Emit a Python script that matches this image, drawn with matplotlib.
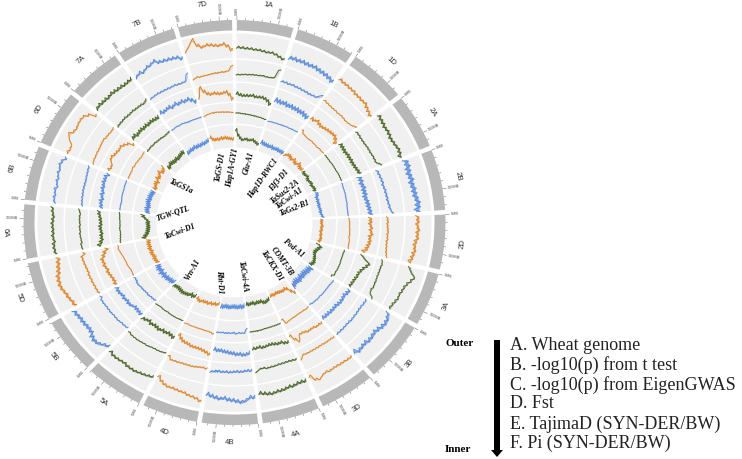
# -*- coding: utf-8 -*-
"""Circular genome plot: five sliding-window tracks over the 21 wheat chromosomes."""
import numpy as np
import matplotlib

matplotlib.use("Agg")
import matplotlib.pyplot as plt

plt.rcParams["font.family"] = ["Liberation Sans", "DejaVu Sans"]

chroms = ["1A", "1B", "1D", "2A", "2B", "2D", "3A", "3B", "3D", "4A", "4B", "4D",
          "5A", "5B", "5D", "6A", "6B", "6D", "7A", "7B", "7D"]
# chromosome length in MB
chrom_mb = [684, 711, 693, 684, 763, 689, 671, 759, 667, 693, 675, 671,
            706, 702, 737, 680, 680, 697, 658, 719, 653]

# each track: 12 windows per chromosome, in percent of the track height
track_b = [
    [45, 44, 42, 42, 40, 40, 38, 36, 38, 34, 28, 22], [36, 38, 36, 38, 36, 36, 38, 34, 32, 30, 26, 20],
    [46, 42, 42, 40, 40, 36, 36, 34, 36, 28, 22, 16], [44, 40, 38, 34, 36, 34, 30, 32, 34, 38, 36, 30],
    [44, 46, 42, 40, 44, 40, 44, 44, 46, 52, 50, 46], [46, 48, 44, 50, 46, 48, 42, 40, 44, 40, 38, 32],
    [38, 50, 68, 60, 50, 44, 42, 38, 40, 36, 32, 30], [34, 44, 48, 46, 40, 36, 40, 42, 38, 40, 44, 34],
    [42, 42, 40, 40, 38, 38, 40, 36, 40, 50, 44, 22], [32, 30, 30, 34, 32, 36, 38, 38, 42, 40, 36, 32],
    [46, 44, 56, 62, 58, 54, 52, 46, 50, 46, 42, 36], [70, 62, 58, 56, 50, 50, 48, 46, 48, 44, 36, 22],
    [36, 40, 44, 46, 50, 50, 50, 46, 48, 50, 50, 44], [36, 44, 56, 60, 56, 46, 44, 46, 48, 48, 52, 54],
    [40, 42, 48, 50, 56, 60, 58, 56, 48, 44, 40, 36], [42, 44, 44, 40, 44, 42, 42, 44, 42, 40, 44, 46],
    [40, 44, 42, 46, 40, 46, 44, 50, 48, 54, 50, 40], [44, 40, 42, 60, 72, 60, 58, 62, 64, 62, 50, 26],
    [40, 44, 42, 42, 40, 44, 42, 40, 40, 38, 40, 42], [36, 44, 40, 50, 52, 60, 48, 46, 44, 42, 40, 30],
    [52, 70, 92, 66, 56, 62, 60, 56, 54, 60, 50, 34],
]
spread_b = [4, 8, 5, 6, 11, 6, 3, 8, 3, 6, 7, 4, 5, 8, 7, 5, 4, 3, 6, 6, 5]

track_c = [
    [32, 32, 34, 34, 36, 36, 36, 38, 36, 36, 40, 80], [34, 34, 32, 34, 32, 32, 30, 30, 28, 30, 32, 50],
    [40, 36, 34, 32, 32, 30, 32, 30, 28, 30, 34, 44], [32, 32, 30, 30, 30, 32, 32, 32, 34, 34, 34, 50],
    [24, 26, 28, 30, 28, 32, 32, 34, 34, 38, 40, 50], [26, 28, 26, 28, 30, 28, 30, 28, 30, 32, 34, 40],
    [26, 30, 28, 28, 28, 28, 30, 30, 32, 28, 32, 50], [32, 32, 30, 30, 32, 32, 34, 32, 32, 34, 34, 34],
    [36, 34, 34, 34, 32, 32, 32, 32, 32, 32, 30, 46], [36, 34, 32, 32, 32, 32, 34, 34, 36, 32, 34, 46],
    [36, 34, 36, 38, 36, 38, 40, 38, 40, 38, 40, 44], [34, 32, 34, 36, 38, 38, 38, 38, 40, 40, 42, 28],
    [24, 28, 30, 30, 32, 36, 36, 38, 40, 40, 40, 36], [28, 30, 30, 34, 34, 34, 36, 36, 36, 38, 38, 32],
    [32, 34, 34, 36, 36, 38, 36, 38, 40, 42, 44, 30], [34, 36, 32, 34, 36, 34, 36, 34, 36, 36, 34, 40],
    [30, 32, 34, 34, 36, 36, 36, 36, 38, 40, 42, 44], [32, 36, 36, 38, 38, 40, 42, 44, 40, 40, 38, 40],
    [30, 32, 32, 34, 32, 32, 34, 32, 32, 32, 30, 38], [30, 32, 34, 34, 34, 34, 34, 36, 34, 34, 36, 66],
    [34, 40, 38, 40, 40, 42, 44, 44, 46, 46, 50, 72],
]
spread_c = [2, 4, 2, 3, 5, 3, 2, 3, 2, 3, 5, 3, 2, 3, 4, 2, 3, 2, 3, 3, 2]

track_d = [
    [46, 38, 34, 36, 36, 40, 34, 36, 38, 34, 26, 10], [44, 40, 38, 42, 36, 40, 36, 38, 34, 36, 30, 26],
    [38, 34, 44, 36, 32, 36, 40, 42, 44, 46, 36, 20], [40, 38, 36, 34, 38, 36, 38, 36, 38, 40, 44, 46],
    [38, 40, 36, 42, 38, 40, 36, 42, 44, 46, 50, 52], [50, 52, 48, 56, 52, 60, 50, 54, 52, 48, 44, 30],
    [30, 50, 78, 70, 58, 50, 44, 44, 40, 38, 36, 34], [44, 42, 36, 40, 42, 40, 36, 38, 38, 36, 36, 34],
    [50, 48, 50, 44, 44, 46, 40, 36, 38, 70, 50, 22], [48, 46, 36, 38, 34, 30, 30, 34, 36, 30, 34, 34],
    [54, 60, 62, 56, 58, 52, 50, 46, 44, 40, 42, 36], [70, 62, 56, 52, 50, 50, 50, 44, 42, 40, 30, 14],
    [44, 38, 34, 40, 36, 44, 40, 38, 44, 36, 44, 48], [40, 38, 36, 34, 44, 48, 44, 50, 46, 52, 54, 50],
    [48, 44, 46, 50, 56, 52, 60, 58, 62, 50, 40, 24], [60, 48, 40, 42, 38, 42, 44, 40, 42, 44, 50, 52],
    [44, 46, 50, 44, 52, 48, 56, 54, 60, 58, 60, 50], [60, 52, 56, 72, 76, 68, 66, 62, 66, 56, 44, 18],
    [42, 46, 38, 42, 44, 40, 44, 40, 44, 42, 40, 40], [54, 48, 52, 56, 48, 58, 50, 56, 50, 56, 44, 30],
    [44, 96, 72, 56, 50, 54, 50, 46, 50, 54, 38, 14],
]
spread_d = [7, 12, 8, 9, 12, 8, 6, 9, 4, 7, 9, 7, 9, 9, 8, 8, 9, 5, 9, 9, 7]

track_e = [
    [52, 52, 50, 50, 48, 48, 46, 46, 44, 44, 42, 40], [36, 38, 38, 40, 40, 42, 42, 44, 44, 46, 46, 48],
    [70, 56, 54, 52, 52, 54, 52, 52, 50, 54, 52, 54], [54, 54, 54, 54, 56, 56, 56, 56, 58, 58, 58, 58],
    [56, 54, 54, 54, 54, 52, 52, 52, 50, 50, 50, 50], [54, 56, 56, 56, 58, 58, 60, 58, 62, 62, 62, 64],
    [50, 48, 48, 48, 48, 50, 50, 50, 50, 48, 50, 40], [60, 58, 56, 56, 56, 56, 56, 54, 56, 54, 54, 50],
    [54, 56, 54, 54, 54, 54, 56, 56, 58, 60, 64, 40], [54, 54, 54, 54, 54, 54, 54, 56, 56, 56, 56, 56],
    [40, 58, 58, 56, 60, 54, 58, 56, 58, 56, 58, 58], [70, 64, 62, 62, 60, 60, 60, 60, 60, 60, 58, 60],
    [54, 54, 56, 56, 56, 56, 54, 56, 56, 54, 56, 58], [48, 50, 50, 54, 52, 54, 56, 56, 60, 60, 56, 56],
    [56, 54, 54, 58, 60, 60, 62, 64, 68, 72, 76, 74], [60, 58, 56, 54, 54, 56, 54, 54, 54, 56, 56, 58],
    [58, 58, 58, 56, 58, 60, 60, 60, 60, 62, 62, 62], [60, 60, 60, 60, 64, 60, 62, 60, 60, 58, 60, 62],
    [54, 54, 56, 54, 56, 54, 54, 54, 52, 52, 54, 56], [54, 56, 58, 56, 58, 56, 54, 54, 54, 54, 54, 54],
    [54, 58, 60, 62, 62, 62, 60, 60, 58, 58, 56, 54],
]
spread_e = [1, 1, 1, 1, 1, 1, 1, 1, 1, 1, 2, 1, 1, 3, 1, 1, 1, 1, 2, 1, 1]

track_f = [
    [80, 56, 44, 36, 40, 42, 38, 40, 44, 38, 34, 28], [44, 40, 38, 38, 36, 40, 36, 38, 40, 38, 40, 38],
    [36, 44, 46, 42, 38, 46, 38, 36, 48, 40, 36, 38], [38, 34, 36, 40, 34, 32, 36, 38, 34, 38, 40, 36],
    [42, 40, 34, 36, 34, 36, 34, 36, 38, 36, 40, 44], [40, 38, 38, 42, 38, 40, 36, 40, 38, 42, 40, 36],
    [36, 50, 44, 38, 34, 34, 38, 42, 44, 48, 46, 40], [50, 44, 44, 40, 38, 40, 36, 42, 38, 36, 40, 46],
    [70, 56, 36, 30, 34, 32, 30, 28, 26, 30, 26, 28], [36, 40, 44, 42, 34, 36, 34, 38, 32, 34, 36, 32],
    [40, 44, 40, 44, 42, 40, 42, 44, 42, 40, 44, 42], [34, 40, 36, 42, 38, 44, 40, 42, 40, 46, 44, 36],
    [34, 40, 34, 42, 44, 46, 48, 46, 44, 42, 44, 46], [36, 42, 40, 46, 44, 50, 44, 52, 44, 50, 46, 44],
    [40, 42, 44, 40, 44, 46, 42, 48, 44, 46, 44, 42], [60, 52, 44, 40, 38, 36, 36, 38, 36, 44, 56, 60],
    [42, 44, 46, 42, 44, 46, 48, 44, 46, 44, 42, 40], [40, 38, 44, 46, 40, 52, 46, 50, 60, 48, 50, 60],
    [40, 38, 46, 44, 42, 40, 44, 40, 44, 46, 50, 48], [34, 36, 40, 38, 44, 40, 42, 40, 44, 42, 46, 50],
    [60, 48, 44, 46, 42, 48, 44, 48, 44, 42, 40, 38],
]
spread_f = [5, 8, 7, 6, 6, 5, 7, 13, 6, 7, 9, 6, 8, 11, 8, 8, 10, 8, 8, 8, 6]

gene_names = ["TaGS-D1", "Hap1A-GY1", "Glu-A1", "Hap1D-RWC1", "Elf3-D1", "TaSus2-2A", "TaCwi-A1",
              "TaGs2-B1", "Pod-A1", "COMT-3B", "TaCKX-D1", "TaCwi-4A", "Rht-D1", "Vrn-A1",
              "TaCwi-D1", "TGW-QTL", "TaGS1a"]
gene_x = [220, 233, 249, 263, 279, 285, 289, 295, 294, 282, 272, 243, 220, 193, 180, 173, 181]
gene_y = [167, 168, 163, 179, 181, 192, 198, 208, 248, 261, 266, 277, 282, 270, 232, 213, 187]
gene_rot = [80, 80, 75, 55, 50, 38, 35, 22, -40, -55, -58, -82, -87, 60, 20, 18, -25]

legend_text = ["A. Wheat genome", "B. -log10(p) from t test", "C. -log10(p) from EigenGWAS",
               "D. Fst", "E. TajimaD (SYN-DER/BW)", "F. Pi (SYN-DER/BW)"]
legend_y = [345, 365, 385, 404, 424, 443]

genome_color = {"A": "#4f6b2c", "B": "#5b8ede", "D": "#e0882d"}
tracks = [(track_b, spread_b, 171, 197), (track_c, spread_c, 147, 169.5),
          (track_d, spread_d, 126, 145.5), (track_e, spread_e, 103, 124.5),
          (track_f, spread_f, 78, 101.5)]

W, H = 742, 459
GAP = 1.3  # degrees between chromosomes
deg_per_mb = (360 - GAP * len(chroms)) / sum(chrom_mb)

fig = plt.figure(figsize=(W / 100, H / 100), dpi=100)
# the original circle is squashed a little, so the polar axes gets a non-square box
half_w, half_h = 230, 220.8
ax = fig.add_axes([(234.5 - half_w) / W, 1 - (222.5 + half_h) / H, 2 * half_w / W, 2 * half_h / H],
                  projection="polar")
ax.set_theta_zero_location("N")
ax.set_theta_direction(-1)
ax.set_ylim(0, half_w)
ax.set_aspect("auto")
ax.axis("off")

start = GAP / 2
for i, name in enumerate(chroms):
    size = chrom_mb[i]
    span = size * deg_per_mb
    mid = np.radians(start + span / 2)
    wid = np.radians(span)
    color = genome_color[name[1]]

    # outer band
    ax.bar(mid, 11, width=wid, bottom=200, color="#b8b8b8", linewidth=0)

    # ticks every 100 MB, labels every 500 MB
    for mb in range(0, size + 1, 100):
        th = np.radians(start + mb * deg_per_mb)
        top = 215 if mb % 500 == 0 else 213
        ax.plot([th, th], [211, top], color="#666666", lw=0.35, solid_capstyle="butt")
        if mb % 500 == 0:
            deg = start + mb * deg_per_mb
            right = deg < 180
            ax.text(th, 216.5, f"{mb}MB", fontsize=2.8, color="#555555", va="center",
                    ha="left" if right else "right", rotation_mode="anchor",
                    rotation=(90 - deg) if right else (270 - deg))

    # chromosome name follows the circle and stays readable
    deg = start + span / 2
    rot = -deg + 180 if 90 < deg < 270 else -deg
    ax.text(np.radians(deg), 229, name, fontsize=5.6, color="#333333", ha="center", va="center",
            rotation=rot, rotation_mode="anchor")

    # data tracks
    for vals, spreads, low, high in tracks:
        ax.bar(mid, high - low, width=wid, bottom=low, color="#f0f0f0", linewidth=0, zorder=1)
        v = np.array(vals[i], dtype=float)
        th = np.radians(np.linspace(start, start + span, len(v)))
        r = low + v / 100 * (high - low)
        s = spreads[i] / 100 * (high - low)
        ax.fill_between(th, r - s * 0.6, r + s * 0.6, color=color, linewidth=0, alpha=0.7, zorder=3)
        # every window is drawn by its low and high value, one after the other
        th2 = np.radians(np.linspace(start, start + span, 2 * len(v)))
        r2 = np.repeat(r, 2) + np.tile([-s, s], len(v))
        ax.plot(th2, r2, color=color, lw=0.75, zorder=3)

    # white spoke between chromosomes, keeps the gap open on the inner tracks
    edge = np.radians(start + span + GAP / 2)
    ax.plot([edge, edge], [76, 199], color="white", lw=1.7, solid_capstyle="butt", zorder=2)

    start += span + GAP

# gene names in the middle
for name, x, y, rot in zip(gene_names, gene_x, gene_y, gene_rot):
    fig.text(x / W, 1 - y / H, name, family="Liberation Serif", style="italic", weight="bold",
             fontsize=5.6, color="black", ha="center", va="center", rotation=rot,
             rotation_mode="anchor")

# legend on the right
for text, y in zip(legend_text, legend_y):
    fig.text(510 / W, 1 - y / H, text, family="Liberation Serif", fontsize=13, color="#222222",
             va="center", ha="left")
fig.text(460 / W, 1 - 343 / H, "Outer", family="Liberation Serif", weight="bold", fontsize=8,
         ha="center", va="center")
fig.text(458 / W, 1 - 450 / H, "Inner", family="Liberation Serif", weight="bold", fontsize=8,
         ha="center", va="center")
arrow = plt.matplotlib.patches.FancyArrow(497 / W, 1 - 340 / H, 0, -117 / H, width=6 / W,
                                          head_width=12 / W, head_length=7 / H,
                                          length_includes_head=True, color="black",
                                          transform=fig.transFigure, linewidth=0)
fig.add_artist(arrow)

fig.savefig("out.png", dpi=100)
plt.close(fig)
